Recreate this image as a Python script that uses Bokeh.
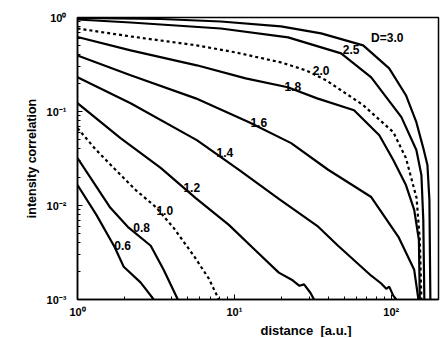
from bokeh.plotting import figure
from bokeh.models import Range1d, Title, CustomJSTickFormatter, ColumnDataSource
from bokeh.core.properties import value
from bokeh.embed import file_html
from bokeh.resources import INLINE

# ---- data (distance [a.u.], intensity correlation) ----
d30_x = [1, 3.39, 8.2, 19.8, 35.7, 66.2, 97, 124, 144.5, 160, 170, 175, 177.5]
d30_y = [0.988, 0.964, 0.907, 0.803, 0.677, 0.505, 0.288, 0.149, 0.077, 0.0408, 0.027, 0.0115, 0.001]

d25_x = [1, 2.18, 8.2, 22.0, 47.9, 74.5, 116, 144.5, 155.6, 160, 162.5]
d25_y = [0.952, 0.885, 0.764, 0.614, 0.415, 0.231, 0.0871, 0.0389, 0.0211, 0.00703, 0.001]

d20_x = [1, 2.18, 5.76, 10.2, 19.8, 28.6, 38.4, 66.2, 103, 124, 145, 152, 155.6]
d20_y = [0.764, 0.629, 0.505, 0.425, 0.333, 0.274, 0.215, 0.117, 0.0603, 0.032, 0.012, 0.0043, 0.001]

d18_x = [1, 2.18, 5.76, 11.8, 21.9, 33.7, 57.9, 83.9, 103, 124, 140, 150, 152]
d18_y = [0.621, 0.447, 0.31, 0.225, 0.181, 0.138, 0.103, 0.056, 0.0305, 0.0165, 0.009, 0.0043, 0.001]

d16_x = [1, 2.18, 5.67, 12.4, 23.0, 39.6, 74.5, 111, 140, 149]
d16_y = [0.395, 0.243, 0.138, 0.077, 0.0461, 0.024, 0.0123, 0.00465, 0.00207, 0.001]

d14_x = [1, 2.18, 5.76, 10.7, 19.2, 33.7, 45.8, 74.5, 86.3, 92.9, 97, 103, 107.7]
d14_y = [0.231, 0.1225, 0.0496, 0.0239, 0.01175, 0.00608, 0.00373, 0.00179, 0.00148, 0.0013, 0.00137, 0.0011, 0.001]

d12_x = [1, 1.88, 3.39, 5.67, 9.22, 13.7, 19.2, 23.5, 26.0, 27.8, 30.5, 32.2]
d12_y = [0.1225, 0.0521, 0.0251, 0.012, 0.00622, 0.0033, 0.00193, 0.0016, 0.0014, 0.00145, 0.00118, 0.001]

d10_x = [1, 1.30, 1.70, 2.35, 3.15, 4.1, 5.51, 6.87, 7.96]
d10_y = [0.0665, 0.0398, 0.0251, 0.0146, 0.00966, 0.00578, 0.00292, 0.00167, 0.001]

d08_x = [1, 1.30, 1.62, 2.09, 2.93, 3.54, 4.36]
d08_y = [0.032, 0.0165, 0.00944, 0.00593, 0.00373, 0.00207, 0.001]

d06_x = [1, 1.32, 1.72, 1.97, 2.53, 3.06]
d06_y = [0.0165, 0.00795, 0.00364, 0.00223, 0.00151, 0.001]

label_text = ["D=3.0", "2.5", "2.0", "1.8", "1.6", "1.4", "1.2", "1.0", "0.8", "0.6"]
label_x = [94.3, 55.5, 35.7, 23.6, 14.3, 8.7, 5.35, 3.6, 2.56, 1.94]
label_y = [0.599, 0.458, 0.274, 0.185, 0.077, 0.037, 0.0157, 0.00877, 0.00578, 0.00373]

x_title = "distance\u00a0\u00a0[a.u.]"
y_title = "intensity correlation"

FONT = "Liberation Sans"

p = figure(width=440, height=337, x_axis_type="log", y_axis_type="log",
           x_range=Range1d(1, 200), y_range=Range1d(1e-3, 1),
           output_backend="svg", toolbar_location=None,
           min_border_left=77, min_border_right=2, min_border_top=17, min_border_bottom=10)

p.xgrid.visible = False
p.ygrid.visible = False
p.outline_line_color = "black"
p.outline_line_width = 1.5
p.background_fill_color = "white"
p.border_fill_color = "white"

fmt = CustomJSTickFormatter(code="""
const e = Math.round(Math.log10(tick));
const sup = {'-':'\u207b','0':'\u2070','1':'\u00b9','2':'\u00b2','3':'\u00b3','4':'\u2074','5':'\u2075','6':'\u2076','7':'\u2077','8':'\u2078','9':'\u2079'};
return '10' + String(e).split('').map(c => sup[c]).join('');
""")

for ax in (p.xaxis[0], p.yaxis[0]):
    ax.formatter = fmt
    ax.axis_line_width = 1.5
    ax.major_tick_in = 5
    ax.major_tick_out = 0
    ax.minor_tick_in = 3
    ax.minor_tick_out = 0
    ax.major_label_text_font = FONT
    ax.major_label_text_font_size = "11px"
    ax.major_label_text_font_style = "bold"
    ax.major_label_text_color = "black"

p.xaxis.major_label_standoff = 6
p.yaxis.major_label_standoff = 11

p.yaxis.axis_label = y_title
p.yaxis.axis_label_text_font = FONT
p.yaxis.axis_label_text_font_size = "12.5px"
p.yaxis.axis_label_text_font_style = "bold"
p.yaxis.axis_label_text_color = "black"
p.yaxis.axis_label_standoff = 5

solid = [(d30_x, d30_y), (d25_x, d25_y), (d18_x, d18_y), (d16_x, d16_y),
         (d14_x, d14_y), (d12_x, d12_y), (d08_x, d08_y), (d06_x, d06_y)]
for xs, ys in solid:
    p.line(xs, ys, line_color="black", line_width=2.2)

for xs, ys in [(d20_x, d20_y), (d10_x, d10_y)]:
    p.line(xs, ys, line_color="black", line_width=2.2, line_dash="3 3")

src = ColumnDataSource(dict(x=label_x, y=label_y, t=label_text))
p.text(x="x", y="y", text="t", source=src, text_font=value(FONT),
       text_font_size="12px", text_font_style="bold", text_align="center",
       text_baseline="middle", text_color="black")

p.add_layout(Title(text=x_title, align="left", offset=183, text_font=FONT,
                   text_font_size="13px", text_font_style="bold", text_color="black",
                   standoff=0), "below")

open("out.html", "w").write(file_html(p, INLINE))
